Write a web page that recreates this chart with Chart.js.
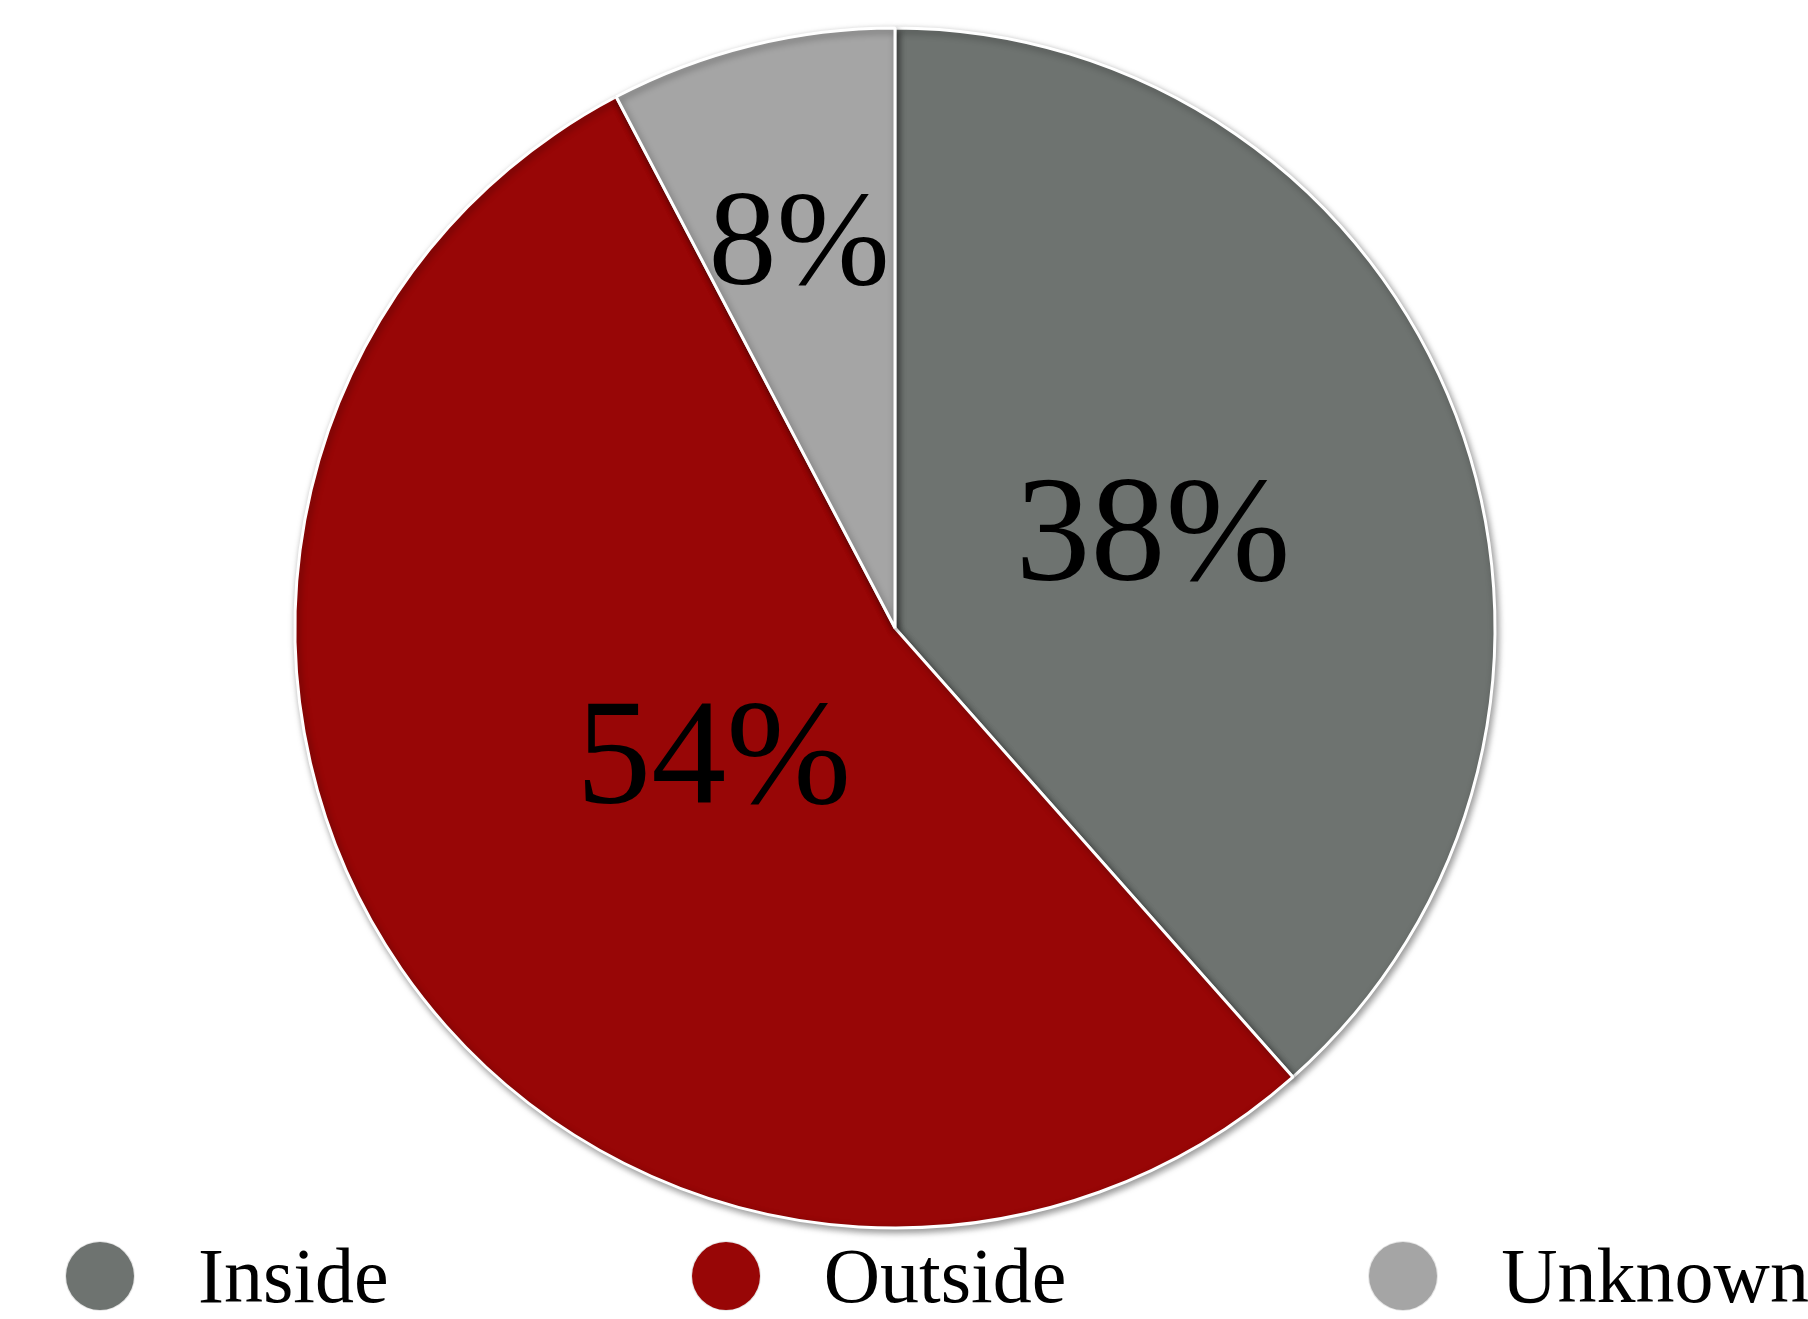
<!DOCTYPE html>
<html>
<head>
<meta charset="utf-8">
<script src="https://cdn.jsdelivr.net/npm/chart.js@4.4.1/dist/chart.umd.min.js"></script>
<style>
    html, body { margin: 0; padding: 0; background: #ffffff; overflow: hidden; }
    #wrap { position: relative; width: 1808px; height: 1319px; }
    #legend {
        position: absolute; left: 66px; top: 1242px;
        display: flex; white-space: nowrap;
        font-family: 'Liberation Serif', 'Times New Roman', serif;
        font-size: 78px; color: #000;
    }
    .legend-item { display: flex; align-items: center; height: 68px; margin-right: 303px; }
    .legend-dot { width: 68px; height: 68px; border-radius: 50%; margin-right: 64px; box-shadow: 0 0 0 1px #e6e6e6; }
    .legend-text { line-height: 68px; }
</style>
</head>
<body>
<div id="wrap">
    <canvas id="pie"></canvas>
    <div id="legend"></div>
</div>
<script>
// ===== Data =====
const categories = ['Inside', 'Outside', 'Unknown'];
const counts = [25, 35, 5];

// ===== Styles =====
const SLICE_COLORS = ['#6e7370', '#980606', '#a5a5a5'];
const LABEL_RADIUS = [0.46, 0.367, 0.668];   // fraction of radius where each % label sits
const LABEL_SIZE = [150, 150, 136];
const SERIF = "'Liberation Serif', 'Times New Roman', serif";

const total = counts.reduce((a, b) => a + b, 0);
const percents = counts.map(v => Math.round(v / total * 100) + '%');

// soft Excel-like shadow under the slices
const shadowPlugin = {
    id: 'sliceShadow',
    beforeDatasetsDraw(chart) {
        const ctx = chart.ctx;
        ctx.save();
        ctx.shadowColor = 'rgba(0, 0, 0, 0.4)';
        ctx.shadowBlur = 7;
        ctx.shadowOffsetX = 2;
        ctx.shadowOffsetY = 3;
    },
    afterDatasetsDraw(chart) {
        chart.ctx.restore();
    }
};

// percentage labels inside the slices
const pctLabels = {
    id: 'pctLabels',
    afterDraw(chart) {
        const ctx = chart.ctx;
        const meta = chart.getDatasetMeta(0);
        meta.data.forEach((arc, i) => {
            const p = arc.getProps(['x', 'y', 'startAngle', 'endAngle', 'outerRadius'], true);
            const mid = (p.startAngle + p.endAngle) / 2;
            const r = p.outerRadius * LABEL_RADIUS[i];
            const size = LABEL_SIZE[i];
            const x = p.x + Math.cos(mid) * r;
            const y = p.y + Math.sin(mid) * r;
            ctx.save();
            ctx.font = size + 'px ' + SERIF;
            ctx.fillStyle = '#000000';
            ctx.textAlign = 'center';
            ctx.textBaseline = 'alphabetic';
            ctx.fillText(percents[i], x, y + size * 0.335);
            ctx.restore();
        });
    }
};

const ctx = document.getElementById('pie').getContext('2d');
const chart = new Chart(ctx, {
    type: 'pie',
    data: {
        labels: categories,
        datasets: [{
            data: counts,
            backgroundColor: SLICE_COLORS,
            borderColor: '#ffffff',
            borderWidth: 3,
            hoverOffset: 0
        }]
    },
    options: {
        responsive: true,
        maintainAspectRatio: false,
        animation: false,
        radius: 600,
        layout: { padding: { left: 0, right: 18, top: 0, bottom: 63 } },
        plugins: {
            legend: { display: false },
            tooltip: { enabled: false }
        }
    },
    plugins: [shadowPlugin, pctLabels]
});

// HTML legend built from the chart's own data
const legendEl = document.getElementById('legend');
chart.data.labels.forEach((label, i) => {
    const item = document.createElement('div');
    item.className = 'legend-item';
    const dot = document.createElement('span');
    dot.className = 'legend-dot';
    dot.style.background = chart.data.datasets[0].backgroundColor[i];
    const text = document.createElement('span');
    text.className = 'legend-text';
    text.textContent = label;
    item.appendChild(dot);
    item.appendChild(text);
    legendEl.appendChild(item);
});
</script>
</body>
</html>
